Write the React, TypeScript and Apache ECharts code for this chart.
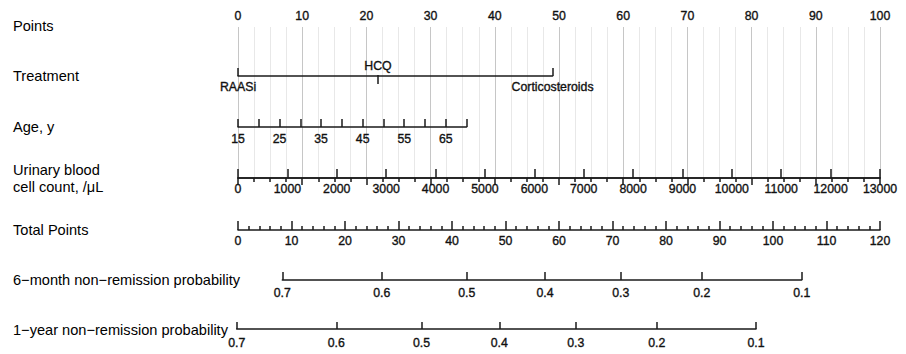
import React, { useEffect, useRef } from "react";
import * as echarts from "echarts";

// ---------- data ----------
const pointsRange = [0, 100];
const pointsStep = 10;

const treatmentNames = ["RAASi", "HCQ", "Corticosteroids"];
const treatmentPoints = [0, 21.8, 49];
const treatmentAbove = [false, true, false];

const ageRange = [15, 70];
const ageStep = 5;
const ageLabels = [15, 25, 35, 45, 55, 65];
const ageMaxPoints = 35.6;

const urinaryRange = [0, 13000];
const urinaryStep = 1000;
const urinaryMaxPoints = 100;

const totalPointsRange = [0, 120];
const totalPointsStep = 10;

const sixMonthProbs = [0.7, 0.6, 0.5, 0.4, 0.3, 0.2, 0.1];
const sixMonthTotalPoints = [8.28, 26.86, 42.75, 57.38, 71.53, 86.67, 105.36];

const oneYearProbs = [0.7, 0.6, 0.5, 0.4, 0.3, 0.2, 0.1];
const oneYearTotalPoints = [-0.24, 18.37, 34.3, 48.84, 63.12, 78.26, 96.82];

const rowLabels = [
  "Points",
  "Treatment",
  "Age, y",
  "Urinary blood\ncell count, /μL",
  "Total Points",
  "6−month non−remission probability",
  "1−year non−remission probability",
];

// ---------- layout ----------
const FONT = "'Liberation Sans', Arial, Helvetica, sans-serif";
const LEFT = 238;
const WIDTH = 642;
const rowY = [27, 76, 127, 178, 230, 280, 329];
const labelY = [26, 76, 127, 178, 230, 280, 330];

const ptsPx = (p: number) => (WIDTH * p) / (pointsRange[1] - pointsRange[0]);
const totPx = (t: number) => (WIDTH * t) / (totalPointsRange[1] - totalPointsRange[0]);

const AXIS_LINE = { color: "#1a1a1a", width: 1.5 };
const labelBase = {
  color: "#111",
  fontSize: 12.3,
  fontFamily: FONT,
  textBorderColor: "#111",
  textBorderWidth: 0.35,
  formatter: (v: number) => String(v),
};

const lookup = (vals: number[], names: (string | number)[]) => (v: number) => {
  const i = vals.findIndex((p) => Math.abs(p - v) < 1e-6);
  return i >= 0 ? String(names[i]) : "";
};

export default function App() {
  const ref = useRef<HTMLDivElement>(null);

  useEffect(() => {
    if (!ref.current) return;
    const chart = echarts.init(ref.current, undefined, { renderer: "svg" });

    const gridBase = { containLabel: false, outerBoundsMode: "none" as any, height: 1 };
    const grids = [
      { ...gridBase, left: LEFT, top: rowY[0], width: WIDTH, height: rowY[3] - rowY[0] },
      { ...gridBase, left: LEFT, top: rowY[1] - 1, width: ptsPx(Math.max(...treatmentPoints)) },
      { ...gridBase, left: LEFT, top: rowY[2] - 1, width: ptsPx(ageMaxPoints) },
      { ...gridBase, left: LEFT, top: rowY[3] - 1, width: ptsPx(urinaryMaxPoints) },
      { ...gridBase, left: LEFT, top: rowY[4] - 1, width: WIDTH },
      {
        ...gridBase,
        left: LEFT + totPx(sixMonthTotalPoints[0]),
        top: rowY[5] - 1,
        width: totPx(sixMonthTotalPoints[sixMonthTotalPoints.length - 1] - sixMonthTotalPoints[0]),
      },
      {
        ...gridBase,
        left: LEFT + totPx(oneYearTotalPoints[0]),
        top: rowY[6] - 1,
        width: totPx(oneYearTotalPoints[oneYearTotalPoints.length - 1] - oneYearTotalPoints[0]),
      },
    ];

    const belowVals = treatmentPoints.filter((_, i) => !treatmentAbove[i]);
    const aboveVals = treatmentPoints.filter((_, i) => treatmentAbove[i]);
    const treatFmt = lookup(treatmentPoints, treatmentNames);

    const xAxes: any[] = [
      {
        gridIndex: 0,
        type: "value",
        position: "top",
        min: pointsRange[0],
        max: pointsRange[1],
        interval: pointsStep,
        axisLine: { show: true, lineStyle: AXIS_LINE },
        axisTick: { show: true, inside: true, length: 7, lineStyle: AXIS_LINE },
        minorTick: { show: true, splitNumber: 4, length: 4, lineStyle: AXIS_LINE },
        axisLabel: { ...labelBase, margin: 5, showMinLabel: true, showMaxLabel: true },
        splitLine: { show: true, lineStyle: { color: "#c6c6c6", width: 1 } },
        minorSplitLine: { show: true, lineStyle: { color: "#e8e8e8", width: 1 } },
      },
      {
        gridIndex: 1,
        type: "value",
        position: "bottom",
        min: treatmentPoints[0],
        max: Math.max(...treatmentPoints),
        axisLine: { show: true, lineStyle: AXIS_LINE },
        axisTick: { show: true, inside: true, length: 8, lineStyle: AXIS_LINE, customValues: belowVals },
        axisLabel: { ...labelBase, margin: 5, customValues: belowVals, formatter: treatFmt },
        splitLine: { show: false },
      },
      {
        gridIndex: 1,
        type: "value",
        position: "top",
        min: treatmentPoints[0],
        max: Math.max(...treatmentPoints),
        axisLine: { show: false },
        axisTick: { show: true, inside: true, length: 9, lineStyle: AXIS_LINE, customValues: aboveVals },
        axisLabel: { ...labelBase, margin: 3, customValues: aboveVals, formatter: treatFmt },
        splitLine: { show: false },
      },
      {
        gridIndex: 2,
        type: "value",
        min: ageRange[0],
        max: ageRange[1],
        interval: ageStep,
        axisLine: { show: true, lineStyle: AXIS_LINE },
        axisTick: { show: true, inside: true, length: 8, lineStyle: AXIS_LINE },
        axisLabel: { ...labelBase, margin: 6, customValues: ageLabels },
        splitLine: { show: false },
      },
      {
        gridIndex: 3,
        type: "value",
        min: urinaryRange[0],
        max: urinaryRange[1],
        interval: urinaryStep,
        axisLine: { show: true, lineStyle: AXIS_LINE },
        axisTick: { show: true, inside: true, length: 9, lineStyle: AXIS_LINE },
        axisLabel: { ...labelBase, margin: 5, showMinLabel: true, showMaxLabel: true },
        splitLine: { show: false },
      },
      {
        gridIndex: 4,
        type: "value",
        min: totalPointsRange[0],
        max: totalPointsRange[1],
        interval: totalPointsStep,
        axisLine: { show: true, lineStyle: AXIS_LINE },
        axisTick: { show: true, inside: true, length: 9, lineStyle: AXIS_LINE },
        minorTick: { show: true, splitNumber: 5, length: 4, lineStyle: AXIS_LINE },
        axisLabel: { ...labelBase, margin: 5, showMinLabel: true, showMaxLabel: true },
        splitLine: { show: false },
      },
      {
        gridIndex: 5,
        type: "value",
        min: sixMonthTotalPoints[0],
        max: sixMonthTotalPoints[sixMonthTotalPoints.length - 1],
        axisLine: { show: true, lineStyle: AXIS_LINE },
        axisTick: { show: true, inside: true, length: 8, lineStyle: AXIS_LINE, customValues: sixMonthTotalPoints },
        axisLabel: {
          ...labelBase,
          margin: 7,
          customValues: sixMonthTotalPoints,
          formatter: lookup(sixMonthTotalPoints, sixMonthProbs.map((p) => p.toFixed(1))),
        },
        splitLine: { show: false },
      },
      {
        gridIndex: 6,
        type: "value",
        min: oneYearTotalPoints[0],
        max: oneYearTotalPoints[oneYearTotalPoints.length - 1],
        axisLine: { show: true, lineStyle: AXIS_LINE },
        axisTick: { show: true, inside: true, length: 7, lineStyle: AXIS_LINE, customValues: oneYearTotalPoints },
        axisLabel: {
          ...labelBase,
          margin: 8,
          customValues: oneYearTotalPoints,
          formatter: lookup(oneYearTotalPoints, oneYearProbs.map((p) => p.toFixed(1))),
        },
        splitLine: { show: false },
      },
    ];

    const yAxes = grids.map((_, i) => ({ gridIndex: i, type: "value", show: false, min: 0, max: 1 }));

    const graphics = rowLabels.map((t, i) => ({
      type: "text",
      left: 13,
      top: labelY[i] - (t.includes("\n") ? 17 : 8.5),
      style: {
        text: t,
        fill: "#000",
        font: `14.6px ${FONT}`,
        lineHeight: 17,
      },
    }));

    chart.setOption({
      animation: false,
      backgroundColor: "#fff",
      grid: grids,
      xAxis: xAxes,
      yAxis: yAxes,
      graphic: graphics,
      series: [],
    });

    return () => chart.dispose();
  }, []);

  return (
    <div
      ref={ref}
      style={{ position: "fixed", left: 0, top: 0, width: 906, height: 354, background: "#fff" }}
    />
  );
}
